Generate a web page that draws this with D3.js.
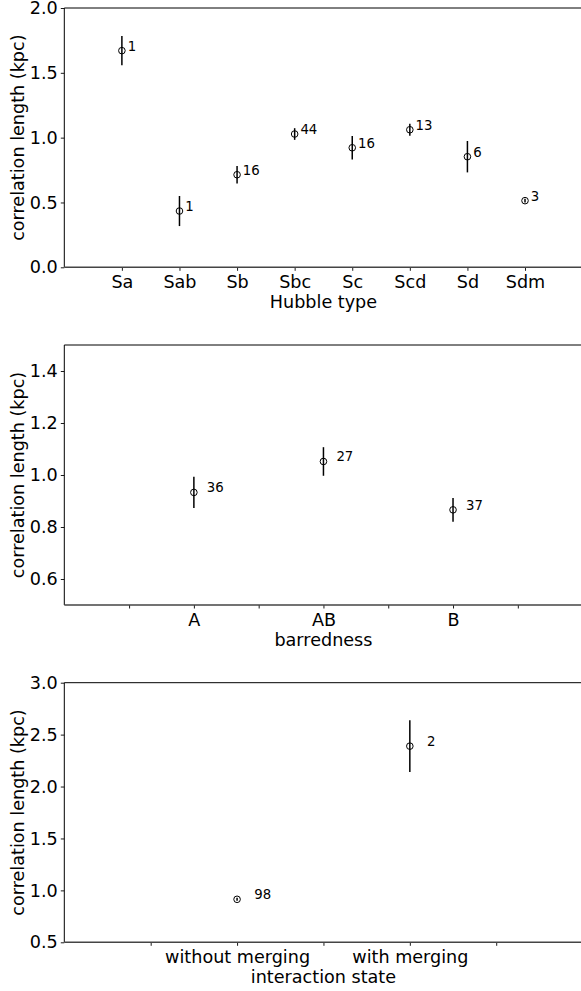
<!DOCTYPE html>
<html>
<head>
<meta charset="utf-8">
<script src="https://cdn.jsdelivr.net/npm/d3@7"></script>
<style>
  html, body { margin: 0; padding: 0; background: #fff; }
  svg { display: block; }
  svg text { font-family: "DejaVu Sans", sans-serif; }
</style>
</head>
<body>
<svg id="chart" width="581" height="991"></svg>
<script>
// ---- data ----
const hubbleTypes = ["Sa", "Sab", "Sb", "Sbc", "Sc", "Scd", "Sd", "Sdm"];
const hubbleValues = [1.671, 0.434, 0.714, 1.028, 0.922, 1.061, 0.853, 0.514];
const hubbleErrors = [0.113, 0.116, 0.067, 0.045, 0.090, 0.046, 0.121, 0.015];
const hubbleCounts = [1, 1, 16, 44, 16, 13, 6, 3];
const hubbleYTicks = [0.0, 0.5, 1.0, 1.5, 2.0];

const barTypes = ["A", "AB", "B"];
const barValues = [0.933, 1.052, 0.866];
const barErrors = [0.060, 0.055, 0.046];
const barCounts = [36, 27, 37];
const barYTicks = [0.6, 0.8, 1.0, 1.2, 1.4];

const mergeStates = ["without merging", "with merging"];
const mergeValues = [0.914, 2.389];
const mergeErrors = [0.015, 0.250];
const mergeCounts = [98, 2];
const mergeYTicks = [0.5, 1.0, 1.5, 2.0, 2.5, 3.0];

const panels = [
  { cats: hubbleTypes, vals: hubbleValues, errs: hubbleErrors, counts: hubbleCounts,
    yTicks: hubbleYTicks, yDomain: [0, 2], xDomain: [0, 9], xStep: 1,
    top: 8, bottom: 267.3, xLabel: "Hubble type" },
  { cats: barTypes, vals: barValues, errs: barErrors, counts: barCounts,
    yTicks: barYTicks, yDomain: [0.5, 1.5], xDomain: [0, 4], xStep: 0.5,
    top: 345, bottom: 605, xLabel: "barredness" },
  { cats: mergeStates, vals: mergeValues, errs: mergeErrors, counts: mergeCounts,
    yTicks: mergeYTicks, yDomain: [0.5, 3.0], xDomain: [0, 3], xStep: 0.5,
    top: 682.7, bottom: 942.3, xLabel: "interaction state" }
];

const svg = d3.select("#chart");
const left = 64.3, right = 582.6;
const fmt = d3.format(".1f");
const FS = 17.6;
const FONT = "DejaVu Sans, sans-serif";

panels.forEach(p => {
  const g = svg.append("g");
  const x = d3.scaleLinear().domain(p.xDomain).range([left, right]);
  const y = d3.scaleLinear().domain(p.yDomain).range([p.bottom, p.top]);

  // x ticks
  const xt = d3.range(p.xDomain[0] + p.xStep, p.xDomain[1] - 1e-9, p.xStep);
  const xAxis = d3.axisBottom(x).tickValues(xt).tickSize(3.5).tickPadding(4)
    .tickFormat(v => Number.isInteger(v) && v >= 1 && v <= p.cats.length ? p.cats[v - 1] : "");
  const gx = g.append("g").attr("transform", `translate(0,${p.bottom})`).call(xAxis)
    .attr("font-family", FONT).attr("font-size", FS);
  gx.select(".domain").remove();
  gx.selectAll(".tick line").attr("stroke", "#000").attr("stroke-width", 0.9);
  gx.selectAll(".tick text").attr("font-size", FS).attr("fill", "#000")
    .attr("dy", null).attr("y", 20.5);

  // y axis
  const yAxis = d3.axisLeft(y).tickValues(p.yTicks).tickSize(3.5).tickPadding(3).tickFormat(fmt);
  const gy = g.append("g").attr("transform", `translate(${left},0)`).call(yAxis)
    .attr("font-family", FONT).attr("font-size", FS);
  gy.select(".domain").remove();
  gy.selectAll(".tick line").attr("stroke", "#000").attr("stroke-width", 0.9);
  gy.selectAll(".tick text").attr("font-size", FS).attr("fill", "#000");

  // spines
  g.append("line").attr("x1", left).attr("x2", right).attr("y1", p.top).attr("y2", p.top)
    .attr("stroke", "#000").attr("stroke-width", 1);
  g.append("line").attr("x1", left).attr("x2", left).attr("y1", p.top).attr("y2", p.bottom)
    .attr("stroke", "#000").attr("stroke-width", 1);
  g.append("line").attr("x1", left).attr("x2", right).attr("y1", p.bottom).attr("y2", p.bottom)
    .attr("stroke", "#444").attr("stroke-width", 1.4);

  // error bars, points, counts
  const data = p.cats.map((c, i) => ({ i: i + 1, v: p.vals[i], e: p.errs[i], n: p.counts[i] }));
  g.selectAll(".err").data(data).enter().append("line")
    .attr("x1", d => x(d.i)).attr("x2", d => x(d.i))
    .attr("y1", d => y(d.v - d.e)).attr("y2", d => y(d.v + d.e))
    .attr("stroke", "#000").attr("stroke-width", 1.5);
  g.selectAll(".pt").data(data).enter().append("circle")
    .attr("cx", d => x(d.i)).attr("cy", d => y(d.v)).attr("r", 3.3)
    .attr("fill", "none").attr("stroke", "#000").attr("stroke-width", 1);
  g.selectAll(".cnt").data(data).enter().append("text")
    .attr("x", d => x(d.i + 0.1)).attr("y", d => y(d.v))
    .attr("font-size", 13.3).attr("fill", "#000")
    .text(d => d.n);

  // labels
  g.append("text").attr("x", (left + right) / 2).attr("y", p.bottom + 41)
    .attr("text-anchor", "middle").attr("font-size", FS).attr("fill", "#000")
    .text(p.xLabel);
  g.append("text")
    .attr("transform", `translate(24,${(p.top + p.bottom) / 2}) rotate(-90)`)
    .attr("text-anchor", "middle").attr("font-size", FS).attr("fill", "#000")
    .text("correlation length (kpc)");
});
</script>
</body>
</html>
